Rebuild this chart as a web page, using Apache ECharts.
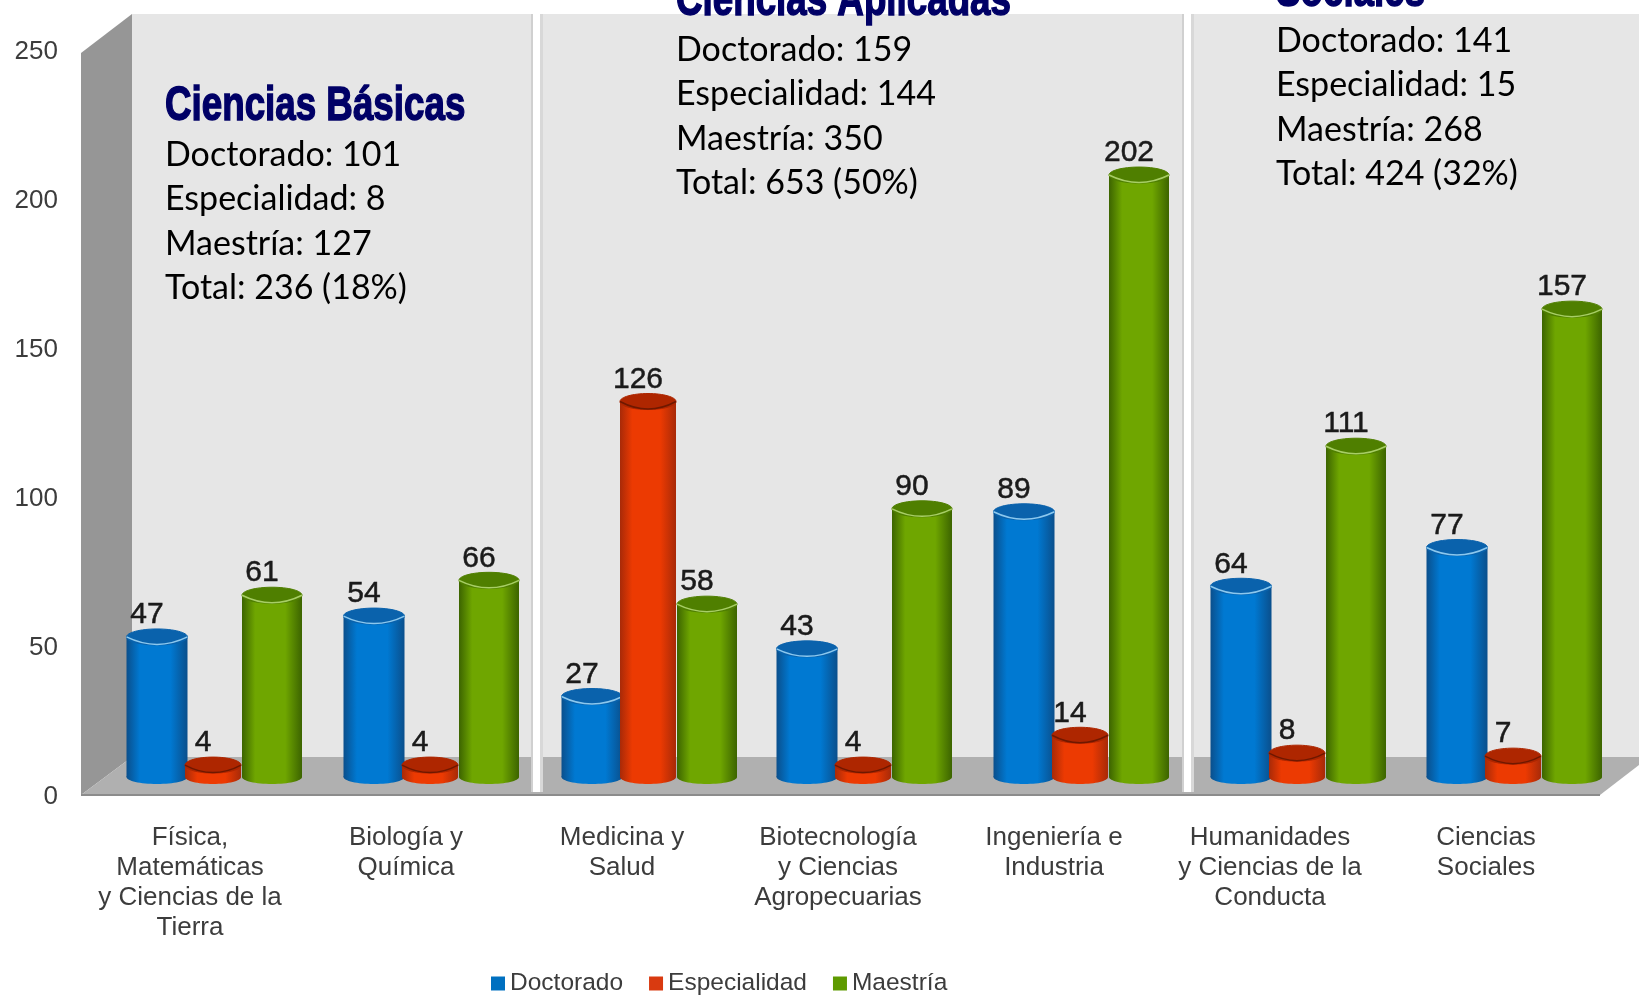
<!DOCTYPE html>
<html>
<head>
<meta charset="utf-8">
<style>
  html, body { margin: 0; padding: 0; background: #fff; }
  #main { width: 1639px; height: 995px; }
</style>
<script src="https://cdn.jsdelivr.net/npm/echarts@6/dist/echarts.min.js"></script>
</head>
<body>
<div id="main"></div>
<script>
// datos
const categories = [
  'Física,\nMatemáticas\ny Ciencias de la\nTierra',
  'Biología y\nQuímica',
  'Medicina y\nSalud',
  'Biotecnología\ny Ciencias\nAgropecuarias',
  'Ingeniería e\nIndustria',
  'Humanidades\ny Ciencias de la\nConducta',
  'Ciencias\nSociales'
];
const doctorado = [47, 54, 27, 43, 89, 64, 77];
const especialidad = [4, 4, 126, 4, 14, 8, 7];
const maestria = [61, 66, 58, 90, 202, 111, 157];
const yTicks = [0, 50, 100, 150, 200, 250];

const panelTitles = ['Ciencias Básicas', 'Ciencias Aplicadas', 'Sociales'];
const panelLines = [
  ['Doctorado: 101', 'Especialidad: 8', 'Maestría: 127', 'Total: 236 (18%)'],
  ['Doctorado: 159', 'Especialidad: 144', 'Maestría: 350', 'Total: 653 (50%)'],
  ['Doctorado: 141', 'Especialidad: 15', 'Maestría: 268', 'Total: 424 (32%)']
];

// ajustes de dibujo, las barras estan corridas por la profundidad del 3D
const depthY = 20;
const groupShift = [23, 24, 26, 25, 26, 27, 27];

const looks = {
  Doctorado: { color: '#0070C0', offset: -56, rx: 30.5, edge: '#0A4F8C', mid: '#0079D2', top: '#0A62AC', rim: '#8CC8EE' },
  Especialidad: { color: '#D93A10', offset: 0, rx: 28, edge: '#A82A08', mid: '#EC3A02', top: '#AE2600', rim: '#6E1800' },
  'Maestría': { color: '#5E9A00', offset: 59, rx: 30, edge: '#3C6400', mid: '#6FA600', top: '#4F7F00', rim: '#A8CE66' }
};

// cilindro de cada barra
function cylinder(name) {
  const look = looks[name];
  return function (params, api) {
    const i = api.value(0);
    const base = api.coord([i, 0]);
    const head = api.coord([i, api.value(1)]);
    const cx = base[0] + groupShift[i] + look.offset;
    const rx = look.rx;
    const yBase = base[1] - depthY;
    const yTop = head[1] - depthY;
    const body = new echarts.graphic.LinearGradient(0, 0, 1, 0, [
      { offset: 0, color: look.edge },
      { offset: 0.22, color: look.mid },
      { offset: 0.72, color: look.mid },
      { offset: 1, color: look.edge }
    ]);
    return {
      type: 'group',
      children: [
        { type: 'ellipse', shape: { cx: cx, cy: yBase, rx: rx, ry: 7 }, style: { fill: body } },
        { type: 'rect', shape: { x: cx - rx, y: yTop, width: rx * 2, height: yBase - yTop }, style: { fill: body } },
        { type: 'ellipse', shape: { cx: cx, cy: yTop, rx: rx, ry: 8 }, style: { fill: look.top, stroke: look.top, lineWidth: 1 } },
        {
          type: 'path',
          shape: {
            pathData: 'M' + (cx - rx) + ' ' + yTop + ' Q' + cx + ' ' + (yTop + 15) + ' ' + (cx + rx) + ' ' + yTop,
            layout: 'cover',
            x: cx - rx, y: yTop, width: rx * 2, height: 7.5
          },
          style: { fill: null, stroke: look.rim, lineWidth: 1.5 }
        },
        {
          type: 'text',
          style: {
            text: String(api.value(1)),
            x: cx - 10,
            y: yTop - 22,
            align: 'center',
            verticalAlign: 'middle',
            fontFamily: 'Liberation Sans',
            fontSize: 30,
            fill: '#1a1a1a',
            stroke: '#1a1a1a',
            lineWidth: 0.5
          }
        }
      ]
    };
  };
}

function makeSeries(name, values) {
  return {
    name: name,
    type: 'custom',
    renderItem: cylinder(name),
    itemStyle: { color: looks[name].color },
    encode: { x: 0, y: 1 },
    data: values.map((v, i) => [i, v])
  };
}

// paredes y piso del grafico
function poly(points, fill, z) {
  return { type: 'polygon', z: z, silent: true, shape: { points: points }, style: { fill: fill } };
}
function divider(x) {
  return [
    { type: 'rect', z: 1, silent: true, shape: { x: x + 7, y: 14, width: 3, height: 778 }, style: { fill: '#D8D8D8' } },
    { type: 'rect', z: 1, silent: true, shape: { x: x - 2, y: 14, width: 2, height: 778 }, style: { fill: '#D0D0D0' } },
    { type: 'rect', z: 2, silent: true, shape: { x: x, y: 8, width: 7, height: 784 }, style: { fill: '#FFFFFF' } }
  ];
}
function textBlock(x, titleY, idx) {
  const out = [{
    type: 'text', z: 3, silent: true, x: x, y: titleY + 2, scaleX: 0.75,
    style: {
      text: panelTitles[idx],
      fontFamily: 'Liberation Sans',
      fontWeight: 'bold',
      fontSize: 49,
      fill: '#000066',
      stroke: '#000066',
      lineWidth: 1.5,
      verticalAlign: 'middle'
    }
  }];
  panelLines[idx].forEach((line, n) => {
    out.push({
      type: 'text', z: 3, silent: true, x: x, y: titleY + 51 + n * 44.5,
      style: { text: line, fontFamily: 'Lato', fontSize: 34, fill: '#000', verticalAlign: 'middle' }
    });
  });
  return out;
}

const graphics = [
  poly([[132, 14], [1639, 14], [1639, 757], [132, 757]], '#E6E6E6', 0),
  poly([[81, 53], [132, 14], [132, 757], [81, 795]], '#969696', 0),
  poly([[132, 757], [1639, 757], [1639, 765], [1600, 795], [81, 795]], '#B0B0B0', 0),
  { type: 'rect', z: 0, silent: true, shape: { x: 81, y: 794, width: 1519, height: 2 }, style: { fill: '#8C8C8C' } }
].concat(divider(533), divider(1184), textBlock(165, 104, 0), textBlock(676, -1, 1), textBlock(1276, -10, 2));

const chart = echarts.init(document.getElementById('main'));
chart.setOption({
  animation: false,
  backgroundColor: '#fff',
  grid: { left: 82, width: 1512, top: 52, height: 745 },
  legend: {
    left: 491,
    top: 971,
    icon: 'rect',
    itemWidth: 14,
    itemHeight: 14,
    itemGap: 26,
    padding: 0,
    textStyle: { fontFamily: 'Liberation Sans', fontSize: 24.5, color: '#3c3c3c' },
    data: ['Doctorado', 'Especialidad', 'Maestría']
  },
  xAxis: {
    type: 'category',
    data: categories,
    axisLine: { show: false },
    axisTick: { show: false },
    axisLabel: {
      interval: 0,
      margin: 26,
      fontFamily: 'Liberation Sans',
      fontSize: 26,
      lineHeight: 30,
      color: '#3c3c3c',
      verticalAlign: 'top'
    }
  },
  yAxis: {
    type: 'value',
    min: yTicks[0],
    max: yTicks[yTicks.length - 1],
    interval: 50,
    axisLine: { show: false },
    axisTick: { show: false },
    splitLine: { show: false },
    axisLabel: { margin: 24, fontFamily: 'Liberation Sans', fontSize: 26, color: '#3c3c3c' }
  },
  graphic: { elements: graphics },
  series: [
    makeSeries('Doctorado', doctorado),
    makeSeries('Especialidad', especialidad),
    makeSeries('Maestría', maestria)
  ]
});
</script>
</body>
</html>
